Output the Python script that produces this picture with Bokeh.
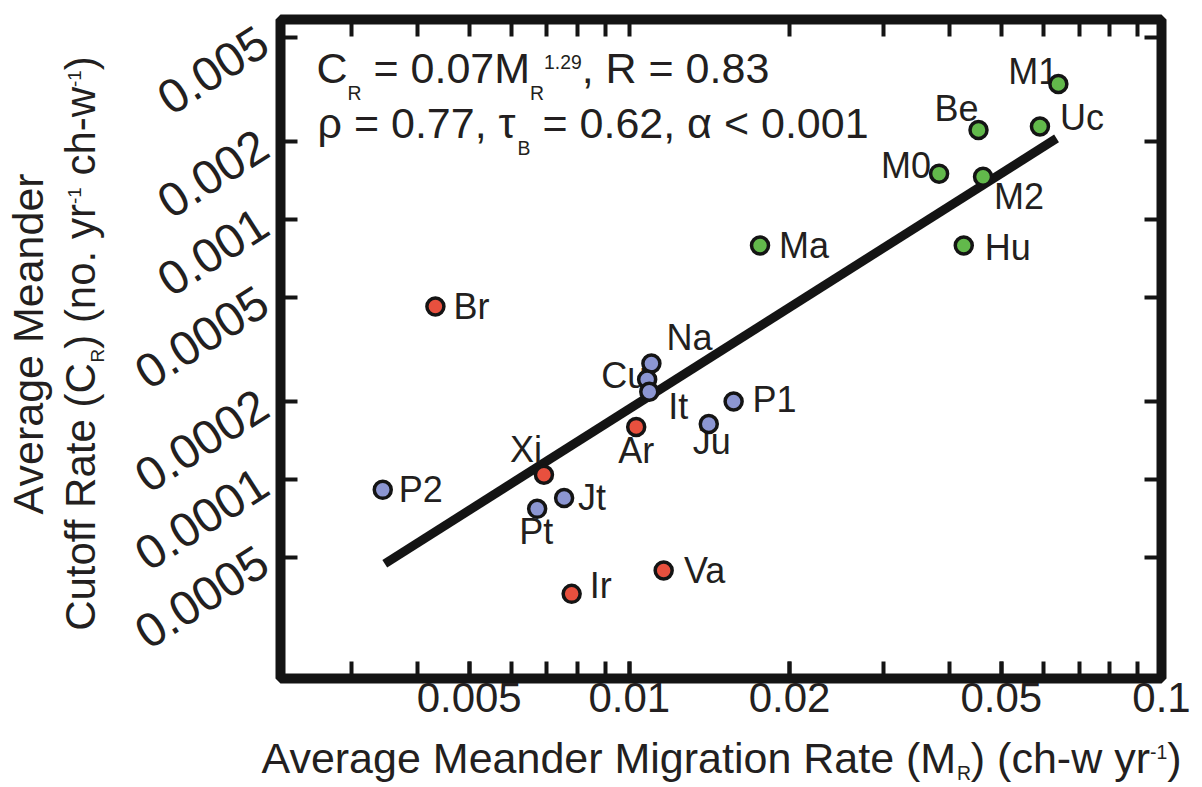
import math
from bokeh.plotting import figure
from bokeh.layouts import row, column
from bokeh.models import LogAxis, FixedTicker, Label, ColumnDataSource, Range1d, CustomJSTickFormatter
from bokeh.core.properties import value
from bokeh.embed import file_html
from bokeh.resources import INLINE

# ---------------- data ----------------
names = ["M1", "Uc", "Be", "M0", "M2", "Hu", "Ma",
         "Na", "Cu", "It", "P1", "Ju", "Jt", "Pt", "P2",
         "Br", "Ar", "Xi", "Va", "Ir"]
migration_rate = [0.0640, 0.0591, 0.0453, 0.0382, 0.0462, 0.0425, 0.0176,
                  0.0110, 0.0108, 0.0109, 0.0157, 0.0141, 0.00754, 0.00671, 0.00344,
                  0.00432, 0.0103, 0.00691, 0.0116, 0.00779]
cutoff_rate = [0.00332, 0.00228, 0.00221, 0.00150, 0.00146, 0.000793, 0.000793,
               0.000279, 0.000242, 0.000217, 0.000199, 0.000163, 0.0000847, 0.0000769, 0.0000910,
               0.000462, 0.000159, 0.000104, 0.0000445, 0.0000362]
group = ["g", "g", "g", "g", "g", "g", "g",
         "b", "b", "b", "b", "b", "b", "b", "b",
         "r", "r", "r", "r", "r"]

fit_mr = [0.00347, 0.0635]
fit_cr = [0.0000473, 0.00205]

x_tick_values = [0.005, 0.01, 0.02, 0.05, 0.1]
x_tick_labels = ["0.005", "0.01", "0.02", "0.05", "0.1"]
x_minor_values = [0.003, 0.004, 0.005, 0.006, 0.007, 0.008, 0.009,
                  0.01, 0.02, 0.03, 0.04, 0.05, 0.06, 0.07, 0.08, 0.09]
y_tick_values = [0.00005, 0.0001, 0.0002, 0.0005, 0.001, 0.002, 0.005]
y_tick_labels = ["0.0005", "0.0001", "0.0002", "0.0005", "0.001", "0.002", "0.005"]

# ---------------- styles / layout ----------------
FONT = "Liberation Sans"
TXT = "#231f20"
INK = "#141414"
COLORS = {"g": "#62b94b", "b": "#8c96d2", "r": "#e8503e"}
X0, X1 = 0.00221, 0.1
Y0, Y1 = 1.71e-5, 0.00588

TOTAL_W, TOTAL_H = 1202, 787
LEFT_W = 112          # strip holding the y-axis title
MAIN_H = 735          # main figure height; the rest holds the x-axis title
FRAME_L, FRAME_R, FRAME_T, FRAME_B = 280, 1161, 19, 678

# label offsets (px, screen; y down)
LBL = {"M1": (-25, -12), "Be": (-22, -21), "Uc": (42, -9), "M0": (-33, -8),
       "M2": (36, 20), "Hu": (44, 2), "Ma": (44, 0), "Na": (38, -26),
       "Cu": (-23, -4), "It": (29, 15), "P1": (41, -2), "Ju": (3, 17),
       "Ar": (0, 24), "Xi": (-18, -25), "P2": (38, 0), "Jt": (28, 0),
       "Pt": (-1, 23), "Ir": (29, -8), "Va": (41, 0), "Br": (36, 0)}

p = figure(width=TOTAL_W - LEFT_W, height=MAIN_H, x_axis_type="log", y_axis_type="log",
           x_range=Range1d(X0, X1), y_range=Range1d(Y0, Y1),
           output_backend="svg", toolbar_location=None,
           min_border_left=FRAME_L - LEFT_W, min_border_right=TOTAL_W - FRAME_R,
           min_border_top=FRAME_T, min_border_bottom=MAIN_H - FRAME_B)
p.xgrid.visible = False
p.ygrid.visible = False
p.outline_line_color = INK
p.outline_line_width = 10
p.background_fill_color = "white"
p.border_fill_color = "white"


def style_axis(ax):
    ax.axis_line_color = None
    ax.major_tick_in = 17
    ax.major_tick_out = 0
    ax.minor_tick_in = 17
    ax.minor_tick_out = 0
    ax.major_tick_line_width = 4
    ax.minor_tick_line_width = 4
    ax.major_tick_line_color = INK
    ax.minor_tick_line_color = INK
    ax.major_label_text_font = FONT
    ax.major_label_text_color = TXT


def fmt(vals, labs):
    return CustomJSTickFormatter(args=dict(vals=vals, labs=labs), code="""
for (let i = 0; i < vals.length; i++) {
  if (Math.abs(Math.log10(tick) - Math.log10(vals[i])) < 1e-6) return labs[i];
}
return "";
""")


xa = p.xaxis[0]
style_axis(xa)
xa.ticker = FixedTicker(ticks=x_tick_values, minor_ticks=x_minor_values)
xa.formatter = fmt(x_tick_values, x_tick_labels)
xa.major_label_text_font_size = "42px"
xa.major_label_standoff = 4

ya = p.yaxis[0]
style_axis(ya)
ya.ticker = FixedTicker(ticks=y_tick_values, minor_ticks=[])
ya.formatter = fmt(y_tick_values, y_tick_labels)
ya.major_label_text_font_size = "48px"
ya.major_label_orientation = 0.57
ya.major_label_standoff = 17

top = LogAxis(ticker=FixedTicker(ticks=[], minor_ticks=x_minor_values))
style_axis(top)
top.major_label_standoff = 0
p.add_layout(top, "above")

right = LogAxis(ticker=FixedTicker(ticks=[], minor_ticks=y_tick_values))
style_axis(right)
right.major_label_standoff = 0
p.add_layout(right, "right")

# ---------------- marks ----------------
p.line(fit_mr, fit_cr, line_width=9, line_color=INK, line_cap="butt")

lab_src = ColumnDataSource(dict(
    x=migration_rate, y=cutoff_rate, name=names,
    dx=[LBL[n][0] for n in names], dy=[LBL[n][1] for n in names]))
p.text(x="x", y="y", text="name", x_offset="dx", y_offset="dy", source=lab_src,
       text_align="center", text_baseline="middle", text_font=value(FONT),
       text_font_size=value("36px"), text_color=TXT)

pt_src = ColumnDataSource(dict(x=migration_rate, y=cutoff_rate,
                               c=[COLORS[g] for g in group]))
p.scatter(x="x", y="y", source=pt_src, size=17, fill_color="c",
          line_color=INK, line_width=3.5)

# ---------------- rich text (sub/superscripts) ----------------
W = {' ': 278, '(': 333, ')': 333, '-': 333, '.': 278, ',': 278, '=': 584, '<': 584,
     'A': 667, 'B': 667, 'C': 722, 'M': 833, 'R': 722,
     'a': 556, 'c': 500, 'd': 556, 'e': 556, 'f': 278, 'g': 556, 'h': 556, 'i': 222,
     'n': 556, 'o': 556, 'r': 333, 't': 278, 'u': 556, 'v': 500, 'w': 722, 'y': 500,
     'ρ': 578, 'τ': 434, 'α': 578}
MID = 0.36  # cap middle above the baseline, in em


def tw(s, size):
    return sum(W.get(ch, 556) for ch in s) * size / 1000.0


def piece_font(kind, size, sub_shift):
    if kind == "n":
        return size, 0.0
    if kind == "sub":
        return size * 0.45, sub_shift * size
    return size * 0.45, 0.33 * size


def rich_width(pieces, size):
    return sum(tw(t, piece_font(k, size, 0)[0]) for t, k in pieces)


def rich_layout(pieces, sx, sy, size, angle=0.0, sub_shift=-0.38):
    """(x, y, text, font_size) of each piece, anchored at its cap middle; y-up px."""
    c, s = math.cos(angle), math.sin(angle)
    out = []
    adv = 0.0
    for txt, kind in pieces:
        fs, shift = piece_font(kind, size, sub_shift)
        lead = len(txt) - len(txt.lstrip(" "))
        a0 = adv + tw(" " * lead, fs)
        up = shift + MID * fs
        out.append((sx + a0 * c - up * s, sy + a0 * s + up * c, txt.strip(), fs))
        adv += tw(txt, fs)
    return out


def rich_labels(fig, pieces, ax, ay, sx, sy, size, angle=0.0, sub_shift=-0.38):
    for ox, oy, txt, fs in rich_layout(pieces, sx, sy, size, angle, sub_shift):
        fig.add_layout(Label(x=ax, y=ay, x_offset=ox, y_offset=oy, text=txt,
                             angle=angle, text_font=FONT, text_font_size=f"{fs:.1f}px",
                             text_color=TXT, text_align="left", text_baseline="middle"))


def rich_glyphs(fig, pieces, sx, sy, size, angle=0.0, sub_shift=-0.38):
    for ox, oy, txt, fs in rich_layout(pieces, sx, sy, size, angle, sub_shift):
        fig.text(x=[ox], y=[oy], text=[txt], angle=angle, text_font=value(FONT),
                 text_font_size=value(f"{fs:.1f}px"), text_color=TXT,
                 text_align="left", text_baseline="middle")


def strip_figure(w, h, y_lo, y_hi, b_top, b_bottom):
    f = figure(width=w, height=h, x_range=Range1d(0, w), y_range=Range1d(y_lo, y_hi),
               output_backend="svg", toolbar_location=None,
               x_axis_location=None, y_axis_location=None,
               min_border=0, min_border_left=0, min_border_right=0,
               min_border_top=b_top, min_border_bottom=b_bottom)
    f.outline_line_color = None
    f.background_fill_color = "white"
    f.border_fill_color = "white"
    f.grid.visible = False
    return f


# statistics box inside the frame (baselines at page y 83 and 138)
ann1 = [("C", "n"), ("R", "sub"), (" = 0.07M", "n"), ("R", "sub"), ("1.29", "sup"), (", R = 0.83", "n")]
ann2 = [("ρ = 0.77, τ", "n"), ("B", "sub"), (" = 0.62, α < 0.001", "n")]
rich_labels(p, ann1, X0, Y1, 36, -(83 - FRAME_T), 43)
rich_labels(p, ann2, X0, Y1, 37, -(138 - FRAME_T), 43)

# x-axis title strip (below); coordinates = px from the strip bottom
XS_H = TOTAL_H - MAIN_H
xfig = strip_figure(TOTAL_W, XS_H, 0, XS_H, 0, 0)
xt = [("Average Meander Migration Rate (M", "n"), ("R", "sub"), (") (ch-w yr", "n"),
      ("-1", "sup"), (")", "n")]
wx = rich_width(xt, 43)
rich_glyphs(xfig, xt, 721 - wx / 2, TOTAL_H - 773, 43, sub_shift=-0.15)

# y-axis title strip (left); its frame is aligned with the main frame,
# y coordinates = px from the bottom of the main figure
yfig = strip_figure(LEFT_W, MAIN_H, MAIN_H - FRAME_B, MAIN_H - FRAME_T, FRAME_T, MAIN_H - FRAME_B)
yt1 = [("Average Meander", "n")]
yt2 = [("Cutoff Rate (C", "n"), ("R", "sub"), (") (no. yr", "n"), ("-1", "sup"),
       (" ch-w", "n"), ("-1", "sup"), (")", "n")]
w1 = rich_width(yt1, 43)
w2 = rich_width(yt2, 42)
ycenter = MAIN_H - 343
rich_glyphs(yfig, yt1, 43, ycenter - w1 / 2, 43, angle=math.pi / 2)
rich_glyphs(yfig, yt2, 95, ycenter - w2 / 2, 42, angle=math.pi / 2, sub_shift=-0.2)

layout = column(row(yfig, p, spacing=0), xfig, spacing=0)
open("out.html", "w").write(file_html(layout, INLINE))
